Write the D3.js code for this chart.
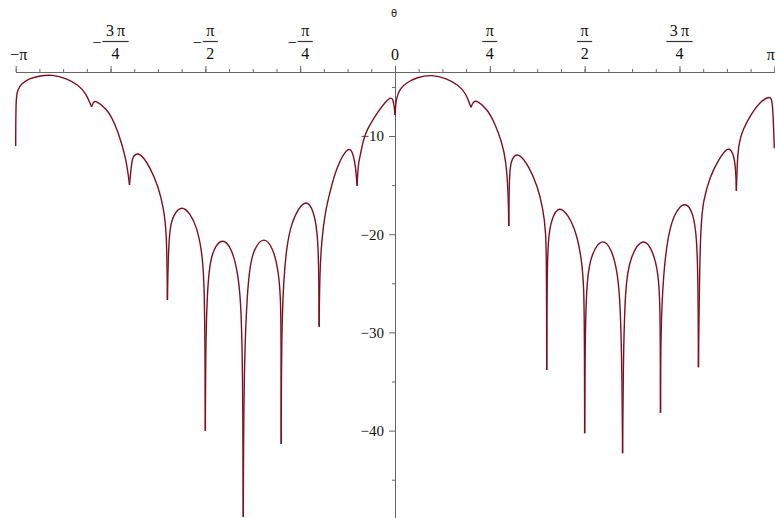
<!DOCTYPE html>
<html>
<head>
<meta charset="utf-8">
<script src="https://cdn.jsdelivr.net/npm/d3@7"></script>
<style>
  body { margin: 0; background: #fff; }
  svg { display: block; }
  .axis path, .axis line { stroke: #666; stroke-width: 1; }
</style>
</head>
<body>
<div id="chart"></div>
<script>
// theta values are in units of pi, gain in dB
var leftTheta = [
    -1.0000, -0.9996, -0.9958, -0.9842, -0.9623, -0.9359, -0.9051, -0.8655, -0.8350, -0.8147, -0.8000,
    -0.7949, -0.7909, -0.7601, -0.7382, -0.7205, -0.7092, -0.7031, -0.7000,
    -0.6942, -0.6900, -0.6741, -0.6459, -0.6240, -0.6109, -0.6019, -0.6000,
    -0.5977, -0.5932, -0.5845, -0.5624, -0.5405, -0.5228, -0.5096, -0.5036, -0.5010, -0.5000,
    -0.4990, -0.4922, -0.4790, -0.4543, -0.4305, -0.4158, -0.4068, -0.4015, -0.4000,
    -0.3985, -0.3868, -0.3717, -0.3454, -0.3209, -0.3077, -0.3013, -0.3003, -0.3000,
    -0.2990, -0.2855, -0.2723, -0.2549, -0.2328, -0.2154, -0.2049, -0.2010, -0.2000,
    -0.1985, -0.1933, -0.1846, -0.1714, -0.1537, -0.1231, -0.1099, -0.1028, -0.1000,
    -0.0968, -0.0923, -0.0836, -0.0746, -0.0482, -0.0219, -0.0045, 0.0000
];
var leftDb = [
    -11.02, -6.33, -5.32, -4.63, -4.12, -3.86, -3.74, -4.12, -4.81, -5.65, -7.02,
    -6.54, -6.35, -7.18, -8.71, -10.74, -12.44, -13.97, -14.99,
    -12.62, -12.00, -11.60, -13.13, -15.16, -17.20, -19.57, -26.70,
    -21.90, -19.24, -18.04, -17.05, -17.87, -19.24, -21.61, -24.33, -30.00, -40.01,
    -30.00, -23.65, -21.44, -20.35, -21.44, -23.65, -26.36, -33.00, -48.77,
    -33.00, -23.65, -21.44, -20.18, -21.44, -23.65, -26.36, -31.00, -41.36,
    -27.00, -20.93, -18.89, -17.36, -16.50, -17.54, -19.57, -22.93, -29.42,
    -24.00, -20.59, -17.87, -15.67, -13.13, -10.95, -11.76, -13.46, -15.06,
    -12.78, -12.11, -10.41, -9.39, -7.69, -6.33, -5.85, -7.86
];
var rightTheta = [
    0.0026, 0.0132, 0.0308, 0.0572, 0.0968, 0.1363, 0.1669, 0.1872, 0.2000,
    0.2064, 0.2154, 0.2418, 0.2636, 0.2813, 0.2926, 0.2987, 0.3000,
    0.3013, 0.3077, 0.3243, 0.3541, 0.3760, 0.3891, 0.3981, 0.3995, 0.4000,
    0.4008, 0.4042, 0.4131, 0.4324, 0.4569, 0.4790, 0.4922, 0.4983, 0.4995, 0.5000,
    0.5010, 0.5054, 0.5186, 0.5450, 0.5713, 0.5871, 0.5940, 0.5985, 0.6000,
    0.6015, 0.6064, 0.6196, 0.6546, 0.6810, 0.6942, 0.6987, 0.6995, 0.7000,
    0.7005, 0.7074, 0.7205, 0.7382, 0.7664, 0.7865, 0.7954, 0.7990, 0.8000,
    0.8041, 0.8128, 0.8305, 0.8524, 0.8787, 0.8919, 0.8982, 0.9000,
    0.9035, 0.9096, 0.9162, 0.9404, 0.9623, 0.9887, 0.9958, 1.0000
];
var rightDb = [
    -6.16, -5.14, -4.57, -4.02, -3.74, -4.12, -4.81, -5.65, -7.08,
    -6.51, -6.35, -7.18, -8.71, -10.58, -12.44, -15.84, -19.16,
    -13.46, -12.30, -11.60, -13.13, -15.16, -17.20, -19.57, -24.00, -33.83,
    -24.00, -20.25, -18.38, -17.08, -18.04, -19.91, -22.63, -25.35, -31.00, -40.27,
    -31.00, -24.33, -21.95, -20.35, -21.44, -23.98, -27.04, -34.00, -42.31,
    -34.00, -25.35, -22.29, -20.18, -21.78, -23.98, -27.04, -32.00, -38.18,
    -30.00, -23.98, -19.91, -17.71, -16.60, -17.87, -20.25, -24.50, -33.55,
    -19.57, -16.52, -14.14, -12.44, -11.00, -11.76, -13.13, -15.57,
    -11.43, -10.41, -9.39, -7.69, -6.51, -5.90, -6.33, -11.25
];

// axis ticks
var xTickValues = [-1, -0.75, -0.5, -0.25, 0, 0.25, 0.5, 0.75, 1];
var xTickSign = ['\u2212', '\u2212', '\u2212', '\u2212', '', '', '', '', ''];
var xTickNum = ['\u03c0', '3\u2009\u03c0', '\u03c0', '\u03c0', '0', '\u03c0', '\u03c0', '3\u2009\u03c0', '\u03c0'];
var xTickDen = ['', '4', '2', '4', '', '4', '2', '4', ''];
var xMinorTicks = d3.range(-16, 17).map(function (k) { return k / 16; });
var yTickValues = [-10, -20, -30, -40];
var yMinorTicks = [-5, -15, -25, -35, -45];

var w = 775, h = 518;
var svg = d3.select('#chart').append('svg')
    .attr('width', w)
    .attr('height', h);

var x = d3.scaleLinear().domain([-1, 1]).range([15.7, 774.3]);
var y = d3.scaleLinear().domain([-3.48, -48.9]).range([72, 518]);

// x axis along the top
svg.append('g')
    .attr('class', 'axis')
    .attr('transform', 'translate(0,72)')
    .call(d3.axisTop(x).tickValues(xMinorTicks).tickSize(3).tickSizeOuter(0).tickFormat(''));
svg.append('g')
    .attr('class', 'axis')
    .attr('transform', 'translate(0,72)')
    .call(d3.axisTop(x).tickValues(xTickValues).tickSize(6).tickSizeOuter(0).tickFormat(''));

// y axis through theta = 0
svg.append('g')
    .attr('class', 'axis')
    .attr('transform', 'translate(' + x(0) + ',0)')
    .call(d3.axisLeft(y).tickValues(yMinorTicks).tickSize(3).tickSizeOuter(0).tickFormat(''));
var yAxis = svg.append('g')
    .attr('class', 'axis')
    .attr('transform', 'translate(' + x(0) + ',0)')
    .call(d3.axisLeft(y).tickValues(yTickValues).tickSize(6).tickSizeOuter(0).tickPadding(5)
        .tickFormat(function (d) { return '\u2212' + Math.abs(d); }));
yAxis.selectAll('text')
    .attr('font-family', 'Liberation Serif, serif')
    .attr('font-size', '15px')
    .attr('fill', '#111');

// x tick labels (pi fractions)
var font = 'Liberation Serif, serif';
xTickValues.forEach(function (v, i) {
    var g = svg.append('g').attr('transform', 'translate(' + x(v) + ',0)');
    if (!xTickDen[i]) {
        g.append('text')
            .attr('x', v === -1 ? 3 : (v === 1 ? 0.5 : 0))
            .attr('y', 60)
            .attr('text-anchor', v === 1 ? 'end' : 'middle')
            .attr('font-family', font)
            .attr('font-size', '16px')
            .attr('fill', '#111')
            .text(xTickSign[i] + xTickNum[i]);
        return;
    }
    var num = g.append('text')
        .attr('y', 36)
        .attr('text-anchor', 'middle')
        .attr('font-family', font)
        .attr('font-size', '16px')
        .attr('fill', '#111')
        .text(xTickNum[i]);
    var tw = num.node().getComputedTextLength();
    var barW = tw + 7;
    var signW = xTickSign[i] ? 10 : 0;
    var x0 = -(signW + barW) / 2 + signW;
    num.attr('x', x0 + barW / 2);
    g.append('text')
        .attr('x', x0 + barW / 2)
        .attr('y', 59)
        .attr('text-anchor', 'middle')
        .attr('font-family', font)
        .attr('font-size', '16px')
        .attr('fill', '#111')
        .text(xTickDen[i]);
    g.append('line')
        .attr('x1', x0).attr('x2', x0 + barW)
        .attr('y1', 41.5).attr('y2', 41.5)
        .attr('stroke', '#333')
        .attr('stroke-width', 1.2);
    if (signW) {
        g.append('text')
            .attr('x', -(signW + barW) / 2)
            .attr('y', 47.5)
            .attr('font-family', font)
            .attr('font-size', '16px')
            .attr('fill', '#111')
            .text(xTickSign[i]);
    }
});

// axis label
svg.append('text')
    .attr('x', x(0) - 1)
    .attr('y', 17)
    .attr('text-anchor', 'middle')
    .attr('font-family', 'DejaVu Sans, sans-serif')
    .attr('font-size', '10px')
    .attr('fill', '#222')
    .text('\u03b8');

// Curve: join halves, cut into lobes at every null so the notches stay sharp
var pts = [];
leftTheta.forEach(function (t, i) { pts.push([t, leftDb[i]]); });
rightTheta.forEach(function (t, i) { pts.push([t, rightDb[i]]); });

var segments = [];
var cur = [pts[0]];
for (var i = 1; i < pts.length; i++) {
    cur.push(pts[i]);
    var isNull = i < pts.length - 1 && pts[i][1] < pts[i - 1][1] && pts[i][1] < pts[i + 1][1];
    if (isNull) {
        segments.push(cur);
        cur = [pts[i]];
    }
}
segments.push(cur);

var line = d3.line()
    .x(function (d) { return x(d[0]); })
    .y(function (d) { return y(d[1]); })
    .curve(d3.curveBasis);

svg.append('g').selectAll('path')
    .data(segments)
    .enter()
    .append('path')
    .attr('d', line)
    .attr('fill', 'none')
    .attr('stroke', '#7d0f22')
    .attr('stroke-width', 1.4)
    .attr('stroke-linejoin', 'round');
</script>
</body>
</html>
